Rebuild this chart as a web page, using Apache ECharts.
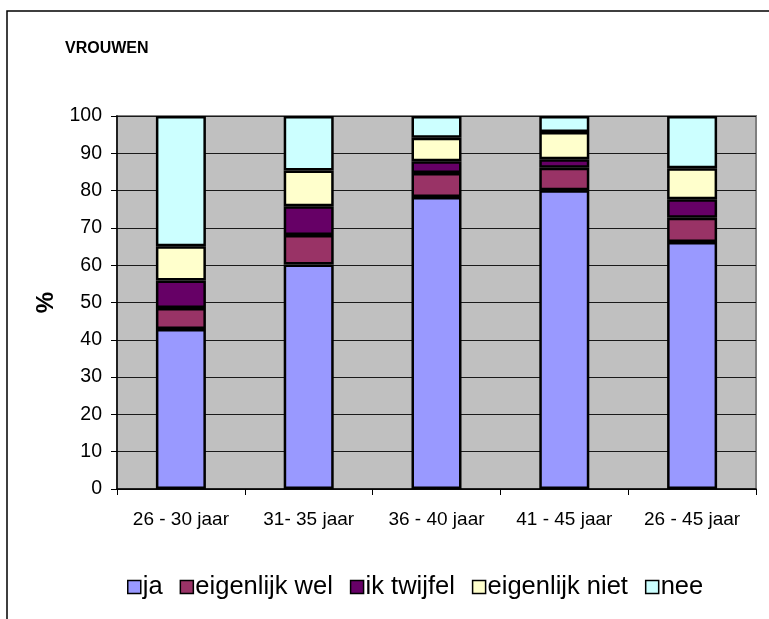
<!DOCTYPE html>
<html>
<head>
<meta charset="utf-8">
<title>VROUWEN</title>
<script src="https://cdn.jsdelivr.net/npm/echarts@6/dist/echarts.min.js"></script>
<style>
  html, body { margin: 0; padding: 0; background: #fff; }
  #chart { width: 769px; height: 619px; }
</style>
</head>
<body>
<div id="chart"></div>
<script>
// leeftijdsgroepen
var categories = ['26 - 30 jaar', '31- 35 jaar', '36 - 40 jaar', '41 - 45 jaar', '26 - 45 jaar'];
// percentages per antwoord
var ja            = [42.9, 60.2, 78.3, 80.1, 66.2];
var eigenlijkWel  = [5.6, 7.9, 6.4, 6.0, 6.5];
var ikTwijfel     = [7.4, 7.7, 3.2, 2.3, 5.0];
var eigenlijkNiet = [9.2, 9.6, 6.3, 7.3, 8.3];
var nee           = [34.9, 14.6, 5.8, 4.3, 14.0];

var font = 'Liberation Sans, Arial, sans-serif';

function bar (name, data, color) {
  return {
    name: name,
    type: 'bar',
    stack: 'totaal',
    barWidth: 50,
    data: data,
    itemStyle: { color: color, borderColor: '#000', borderWidth: 2.5 }
  };
}

var chart = echarts.init(document.getElementById('chart'));
var option = {
  animation: false,
  textStyle: { fontFamily: font, color: '#000' },
  title: {
    text: 'VROUWEN',
    left: 60,
    top: 36,
    textStyle: { fontFamily: font, fontSize: 16, fontWeight: 'bold', color: '#000' }
  },
  graphic: [{
    type: 'rect',
    shape: { x: 7, y: 11, width: 800, height: 700 },
    style: { fill: null, stroke: '#000', lineWidth: 1.5 },
    silent: true
  }],
  legend: {
    left: 122,
    top: 569,
    itemWidth: 13,
    itemHeight: 13,
    itemGap: 17,
    icon: 'rect',
    itemStyle: { borderColor: '#000', borderWidth: 1.5 },
    textStyle: { fontFamily: font, fontSize: 25.5, color: '#000', padding: [0, 0, 0, -3] },
    data: ['ja', 'eigenlijk wel', 'ik twijfel', 'eigenlijk niet', 'nee']
  },
  grid: {
    left: 117,
    top: 116,
    right: 13,
    bottom: 130,
    show: true,
    backgroundColor: '#C0C0C0',
    borderColor: '#808080',
    borderWidth: 2
  },
  xAxis: {
    type: 'category',
    data: categories,
    axisLine: { lineStyle: { color: '#000', width: 1.5 } },
    axisTick: { show: true, length: 6, interval: 0, alignWithLabel: false, lineStyle: { color: '#000' } },
    axisLabel: { interval: 0, fontSize: 19, color: '#000', margin: 21, fontFamily: font }
  },
  yAxis: {
    type: 'value',
    min: 0,
    max: 100,
    interval: 10,
    name: '%',
    nameLocation: 'middle',
    nameRotate: 90,
    nameGap: 54,
    nameTextStyle: { fontSize: 24, fontWeight: 'bold', color: '#000', fontFamily: font },
    axisLine: { show: true, lineStyle: { color: '#000', width: 1.5 } },
    axisTick: { show: true, length: 6, lineStyle: { color: '#000' } },
    axisLabel: { fontSize: 19.5, color: '#000', margin: 15, fontFamily: font },
    splitLine: { show: true, lineStyle: { color: '#1a1a1a', width: 1 } }
  },
  series: [
    bar('ja', ja, '#9999FF'),
    bar('eigenlijk wel', eigenlijkWel, '#993366'),
    bar('ik twijfel', ikTwijfel, '#660066'),
    bar('eigenlijk niet', eigenlijkNiet, '#FFFFCC'),
    bar('nee', nee, '#CCFFFF')
  ]
};
chart.setOption(option);
</script>
</body>
</html>
